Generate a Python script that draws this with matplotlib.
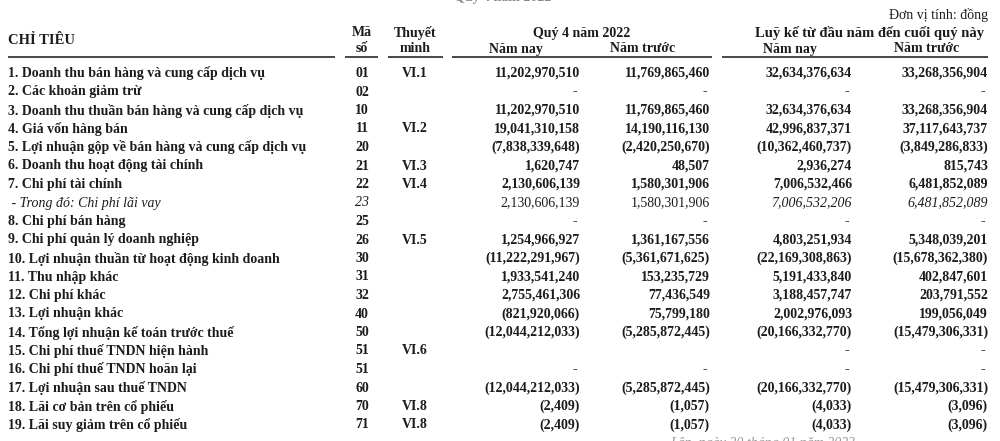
import matplotlib
matplotlib.use("Agg")
import matplotlib.pyplot as plt

plt.rcParams['font.family'] = ['Liberation Serif', 'DejaVu Serif']

# row data of the income statement
labels = [
    "1. Doanh thu bán hàng và cung cấp dịch vụ",
    "2. Các khoản giảm trừ",
    "3. Doanh thu thuần bán hàng và cung cấp dịch vụ",
    "4. Giá vốn hàng bán",
    "5. Lợi nhuận gộp về bán hàng và cung cấp dịch vụ",
    "6. Doanh thu hoạt động tài chính",
    "7. Chi phí tài chính",
    " - Trong đó: Chi phí lãi vay",
    "8. Chi phí bán hàng",
    "9. Chi phí quản lý doanh nghiệp",
    "10. Lợi nhuận thuần từ hoạt động kinh doanh",
    "11. Thu nhập khác",
    "12. Chi phí khác",
    "13. Lợi nhuận khác",
    "14. Tổng lợi nhuận kế toán trước thuế",
    "15. Chi phí thuế TNDN hiện hành",
    "16. Chi phí thuế TNDN hoãn lại",
    "17. Lợi nhuận sau thuế TNDN",
    "18. Lãi cơ bản trên cổ phiếu",
    "19. Lãi suy giảm trên cổ phiếu",
]
codes = ["01", "02", "10", "11", "20", "21", "22", "23", "25", "26",
         "30", "31", "32", "40", "50", "51", "51", "60", "70", "71"]
notes = ["VI.1", "", "", "VI.2", "", "VI.3", "VI.4", "", "", "VI.5",
         "", "", "", "", "", "VI.6", "", "", "VI.8", "VI.8"]

# None = blank cell, 0 = dash
q4_this = [11202970510, 0, 11202970510, 19041310158, -7838339648, 1620747,
           2130606139, 2130606139, 0, 1254966927, -11222291967, 1933541240,
           2755461306, -821920066, -12044212033, None, 0, -12044212033,
           -2409, -2409]
q4_prev = [11769865460, 0, 11769865460, 14190116130, -2420250670, 48507,
           1580301906, 1580301906, 0, 1361167556, -5361671625, 153235729,
           77436549, 75799180, -5285872445, None, 0, -5285872445,
           -1057, -1057]
ytd_this = [32634376634, 0, 32634376634, 42996837371, -10362460737, 2936274,
            7006532466, 7006532206, 0, 4803251934, -22169308863, 5191433840,
            3188457747, 2002976093, -20166332770, 0, 0, -20166332770,
            -4033, -4033]
ytd_prev = [33268356904, 0, 33268356904, 37117643737, -3849286833, 815743,
            6481852089, 6481852089, 0, 5348039201, -15678362380, 402847601,
            203791552, 199056049, -15479306331, 0, 0, -15479306331,
            -3096, -3096]

sub_row = 7  # the italic "of which" row


def fmt(v):
    if v is None:
        return ""
    if v == 0:
        return "-"
    if v < 0:
        return "({:,})".format(-v)
    return "{:,}".format(v)


ink = "#1c1c1c"
fs = 10
fig = plt.figure(figsize=(10, 4.41), dpi=100)
ax = fig.add_axes([0, 0, 1, 1])
ax.set_xlim(0, 1000)
ax.set_ylim(441, 0)
ax.axis("off")

# header
ax.text(988, 15, "Đơn vị tính: đồng", ha="right", va="center", fontsize=fs, color=ink)
ax.text(503, -3, "Quý 4 năm 2022", ha="center", va="center", fontsize=fs,
        fontweight="bold", color="#888888")
ax.text(8, 40, "CHỈ TIÊU", ha="left", va="center", fontsize=10.5, fontweight="bold", color=ink)
ax.text(362, 33, "Mã", ha="center", va="center", fontsize=fs, fontweight="bold", color=ink)
ax.text(362, 48, "số", ha="center", va="center", fontsize=fs, fontweight="bold", color=ink)
ax.text(415, 33, "Thuyết", ha="center", va="center", fontsize=fs, fontweight="bold", color=ink)
ax.text(415, 48, "minh", ha="center", va="center", fontsize=fs, fontweight="bold", color=ink)
ax.text(582, 33, "Quý 4 năm 2022", ha="center", va="center", fontsize=fs, fontweight="bold", color=ink)
ax.text(870, 33, "Luỹ kế từ đầu năm đến cuối quý này", ha="center", va="center",
        fontsize=10.5, fontweight="bold", color=ink)
ax.text(516, 49, "Năm nay", ha="center", va="center", fontsize=fs, fontweight="bold", color=ink)
ax.text(643, 49, "Năm trước", ha="center", va="center", fontsize=fs, fontweight="bold", color=ink)
ax.text(790, 49, "Năm nay", ha="center", va="center", fontsize=fs, fontweight="bold", color=ink)
ax.text(927, 49, "Năm trước", ha="center", va="center", fontsize=fs, fontweight="bold", color=ink)

for x0, x1 in [(8, 335), (345, 378), (388, 443), (452, 712), (722, 988)]:
    ax.plot([x0, x1], [57, 57], color="#3a3a3a", lw=1.3, solid_capstyle="butt")

# body
y0, dy = 73.5, 18.5
cols = [(580, q4_this), (710, q4_prev), (852, ytd_this), (988, ytd_prev)]
for i, lab in enumerate(labels):
    y = y0 + i * dy
    sub = i == sub_row
    weight = "normal" if sub else "bold"
    style = "italic" if sub else "normal"
    ax.text(8, y, lab, ha="left", va="center", fontsize=fs, fontweight=weight,
            fontstyle=style, color=ink)
    ax.text(362, y, codes[i], ha="center", va="center", fontsize=fs,
            fontweight=weight, fontstyle=style, color=ink)
    ax.text(415, y, notes[i], ha="center", va="center", fontsize=fs,
            fontweight="bold", color=ink)
    for j, (xr, vals) in enumerate(cols):
        s = fmt(vals[i])
        it = "italic" if (sub and j >= 2) else "normal"
        ax.text(xr - 3 if s == "-" else xr, y, s, ha="right", va="center",
                fontsize=fs, fontweight=weight, fontstyle=it, color=ink)

ax.text(763, 444, "Lập, ngày 20 tháng 01 năm 2023", ha="center", va="center",
        fontsize=fs, fontstyle="italic", color="#999999")

fig.savefig("out.png", dpi=100, facecolor="white")
